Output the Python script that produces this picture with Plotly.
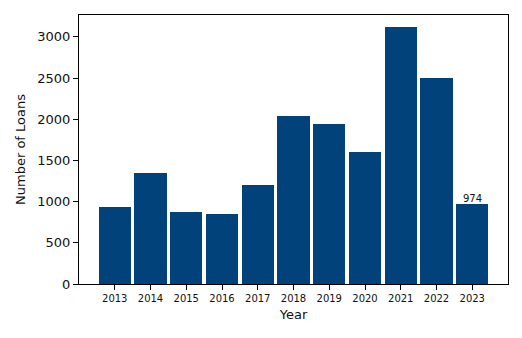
import plotly.graph_objects as go

years = [2013, 2014, 2015, 2016, 2017, 2018, 2019, 2020, 2021, 2022, 2023]
loans = [935, 1347, 872, 850, 1202, 2037, 1940, 1602, 3115, 2500, 974]

BAR_COLOR = "#01427a"
FONT = "DejaVu Sans"
TEXT = "#111"

fig = go.Figure(
    go.Bar(
        x=years,
        y=loans,
        width=0.9,
        marker=dict(color=BAR_COLOR, line=dict(width=0)),
    )
)

# value label on the latest year
fig.add_annotation(
    x=years[-1],
    y=loans[-1],
    text=str(loans[-1]),
    showarrow=False,
    yanchor="bottom",
    yshift=-2,
    font=dict(family=FONT, size=10, color=TEXT),
)

fig.update_layout(
    width=522,
    height=338,
    margin=dict(l=79, r=14, t=15, b=54),
    paper_bgcolor="white",
    plot_bgcolor="white",
    showlegend=False,
    font=dict(family=FONT, color=TEXT),
    bargap=0,
)

fig.update_xaxes(
    range=[2012.0, 2024.0],
    tickmode="array",
    tickvals=years,
    ticktext=[str(y) for y in years],
    tickfont=dict(size=10, family=FONT, color=TEXT),
    ticks="outside",
    ticklen=5,
    tickcolor="black",
    showline=True,
    linecolor="black",
    linewidth=1,
    mirror=True,
    showgrid=False,
    zeroline=False,
    title=dict(text="Year", font=dict(size=13, family=FONT, color=TEXT), standoff=6),
)

fig.update_yaxes(
    range=[0, 3265],
    tickvals=[0, 500, 1000, 1500, 2000, 2500, 3000],
    tickfont=dict(size=13, family=FONT, color=TEXT),
    ticks="outside",
    ticklen=5,
    tickcolor="black",
    showline=True,
    linecolor="black",
    linewidth=1,
    mirror=True,
    showgrid=False,
    zeroline=False,
    title=dict(text="Number of Loans", font=dict(size=13, family=FONT, color=TEXT), standoff=8),
)

fig.write_html("out.html")
